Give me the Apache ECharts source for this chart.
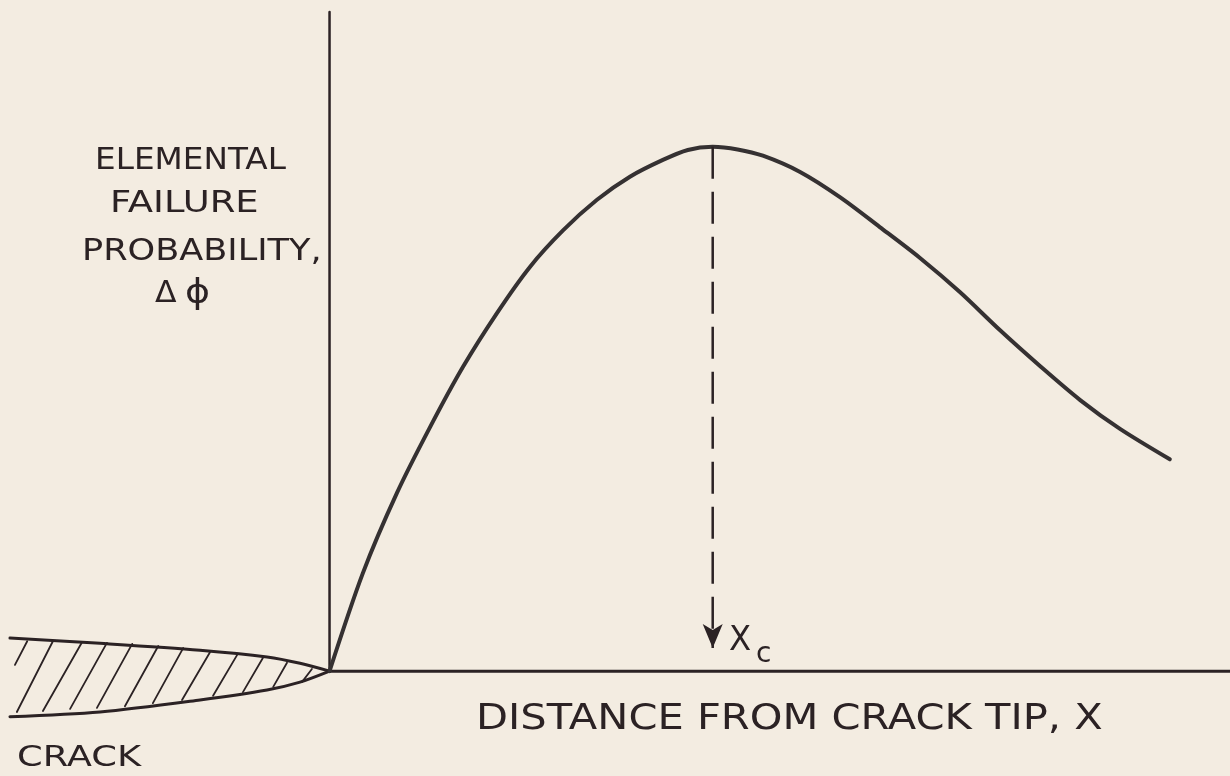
<!DOCTYPE html>
<html>
<head>
<meta charset="utf-8">
<script src="https://cdn.jsdelivr.net/npm/echarts@6/dist/echarts.min.js"></script>
<style>
  html, body { margin: 0; padding: 0; background: #f3ece1; }
  #chart { width: 1230px; height: 776px; }
</style>
</head>
<body>
<div id="chart"></div>
<script>
// Distance from the crack tip (x, in units of x_c) and elemental failure probability (Δϕ, peak = 1)
const curveX = [0, 0.087, 0.176, 0.262, 0.348, 0.437, 0.523, 0.610, 0.698, 0.784, 0.870, 0.935, 1.0,
                1.065, 1.131, 1.228, 1.332, 1.436, 1.541, 1.645, 1.750, 1.854, 1.959, 2.063, 2.193];
const curveY = [0, 0.187, 0.340, 0.465, 0.580, 0.683, 0.771, 0.841, 0.899, 0.943, 0.975, 0.994, 1.0,
                0.995, 0.983, 0.952, 0.904, 0.847, 0.788, 0.723, 0.650, 0.582, 0.517, 0.462, 0.404];

// Crack faces behind the tip
const crackX     = [-0.834, -0.599, -0.338, -0.163, -0.077, 0];
const crackUpper = [0.063, 0.053, 0.040, 0.027, 0.015, 0];
const crackLower = [-0.087, -0.078, -0.055, -0.036, -0.021, 0];

// Hatch strokes inside the crack: [x1, y1, x2, y2]
const hatchLines = [
  [-0.821, 0.012, -0.789, 0.057],
  [-0.816, -0.078, -0.722, 0.057],
  [-0.748, -0.076, -0.646, 0.055],
  [-0.677, -0.072, -0.581, 0.054],
  [-0.607, -0.070, -0.515, 0.052],
  [-0.534, -0.067, -0.447, 0.048],
  [-0.461, -0.061, -0.382, 0.044],
  [-0.385, -0.055, -0.312, 0.036],
  [-0.304, -0.047, -0.241, 0.031],
  [-0.226, -0.040, -0.174, 0.025],
  [-0.147, -0.030, -0.111, 0.016],
  [-0.072, -0.021, -0.046, 0.004]
];

// Critical distance x_c and the end of its drop line
const xc = 1.0;
const xcPeak = 1.0;
const xcArrowEnd = 0.044;

// Axis extents drawn as plain lines
const yAxisTop = 1.257;
const xAxisEnd = 2.35;

const ink = '#2b2224';
const curveInk = '#353132';
const font = '"DejaVu Sans", sans-serif';

const zip = (xs, ys) => xs.map((x, i) => [x, ys[i]]);

function plainLine(data, width, color, extra) {
  return Object.assign({
    type: 'line',
    data: data,
    symbol: 'none',
    silent: true,
    animation: false,
    lineStyle: { width: width, color: color, cap: 'round', join: 'round' }
  }, extra || {});
}

const series = [
  plainLine([[0, 0], [0, yAxisTop]], 2.5, ink),
  plainLine([[0, 0], [xAxisEnd, 0]], 3, ink),
  plainLine(zip(crackX, crackUpper), 3, ink, { smooth: 0.3 }),
  plainLine(zip(crackX, crackLower), 3, ink, { smooth: 0.3 }),
  plainLine(zip(curveX, curveY), 4, curveInk, { smooth: 0.3 }),
  {
    type: 'line',
    silent: true,
    animation: false,
    data: [
      { value: [xc, xcPeak], symbol: 'none' },
      { value: [xc, xcArrowEnd], symbol: 'arrow', symbolSize: [15, 24], symbolRotate: 180 }
    ],
    lineStyle: { width: 2.5, color: ink, type: [32, 13] },
    itemStyle: { color: ink }
  }
];
hatchLines.forEach(h => {
  series.push(plainLine([[h[0], h[1]], [h[2], h[3]]], 1.8, ink));
});

function label(text, x, y, size, scaleX) {
  return {
    type: 'text',
    x: x,
    y: y,
    scaleX: scaleX,
    silent: true,
    style: {
      text: text,
      font: size + 'px ' + font,
      fill: ink,
      align: 'left',
      verticalAlign: 'middle',
      textAlign: 'left',
      textVerticalAlign: 'middle'
    }
  };
}

const chart = echarts.init(document.getElementById('chart'), null, { renderer: 'canvas' });
chart.setOption({
  backgroundColor: '#f3ece1',
  animation: false,
  grid: { left: 0, right: 0, top: 0, bottom: 0 },
  xAxis: { type: 'value', min: -0.86, max: 2.35, show: false },
  yAxis: { type: 'value', min: -0.2, max: 1.28, show: false },
  series: series,
  graphic: [
    label('ELEMENTAL', 95, 161, 30, 1.09),
    label('FAILURE', 110, 204, 30, 1.23),
    label('PROBABILITY,', 82, 252, 30, 1.17),
    label('\u0394', 155, 294, 30, 1.05),
    label('\u03D5', 185, 294, 33, 1.15),
    label('X', 729, 641, 34, 0.95),
    label('c', 756, 655, 28, 1.0),
    label('DISTANCE FROM CRACK TIP, X', 476, 720, 36, 1.155),
    label('CRACK', 17, 758, 29, 1.27)
  ]
});
</script>
</body>
</html>
